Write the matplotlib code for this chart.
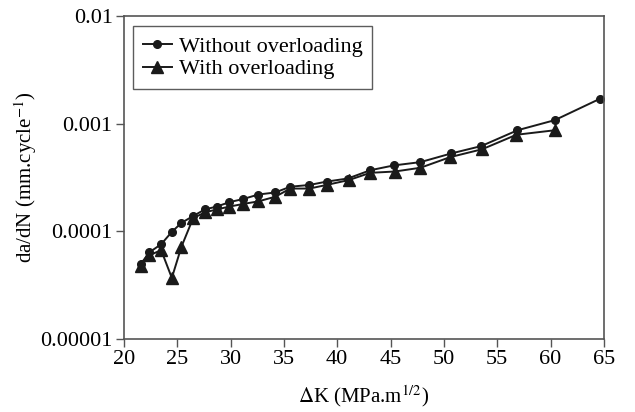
import matplotlib
matplotlib.use("Agg")
import matplotlib.pyplot as plt

# data
dk_without = [21.6, 22.4, 23.5, 24.5, 25.4, 26.5, 27.6, 28.7, 29.9, 31.2, 32.6, 34.2,
              35.6, 37.4, 39.0, 41.0, 43.1, 45.3, 47.8, 50.7, 53.5, 56.9, 60.4, 64.6]
dadn_without = [5.0e-5, 6.4e-5, 7.6e-5, 9.9e-5, 1.2e-4, 1.39e-4, 1.6e-4, 1.7e-4, 1.87e-4,
                2.0e-4, 2.2e-4, 2.3e-4, 2.6e-4, 2.7e-4, 2.9e-4, 3.1e-4, 3.7e-4, 4.1e-4,
                4.4e-4, 5.3e-4, 6.2e-4, 8.7e-4, 1.08e-3, 1.7e-3]

dk_with = [21.6, 22.4, 23.5, 24.5, 25.4, 26.5, 27.6, 28.7, 29.9, 31.2, 32.6, 34.2,
           35.6, 37.4, 39.0, 41.1, 43.1, 45.4, 47.8, 50.6, 53.6, 56.8, 60.4]
dadn_with = [4.8e-5, 6.0e-5, 6.7e-5, 3.7e-5, 7.2e-5, 1.33e-4, 1.5e-4, 1.6e-4, 1.7e-4,
             1.8e-4, 1.9e-4, 2.1e-4, 2.5e-4, 2.5e-4, 2.7e-4, 3.0e-4, 3.5e-4, 3.6e-4,
             3.9e-4, 4.9e-4, 5.8e-4, 7.9e-4, 8.7e-4]

x_ticks = [20, 25, 30, 35, 40, 45, 50, 55, 60, 65]
y_ticks = [1e-5, 1e-4, 1e-3, 1e-2]
y_labels = ["0.00001", "0.0001", "0.001", "0.01"]

plt.rcParams['font.family'] = ['Liberation Serif', 'DejaVu Serif']
plt.rcParams['mathtext.fontset'] = 'stix'

fig = plt.figure(figsize=(6.35, 4.12), dpi=100)
ax = fig.add_axes([0.195, 0.177, 0.756, 0.784])

ax.plot(dk_without, dadn_without, color='#1a1a1a', lw=1.4, marker='o', ms=5.5,
        label='Without overloading')
ax.plot(dk_with, dadn_with, color='#1a1a1a', lw=1.4, marker='^', ms=8,
        label='With overloading')

ax.set_yscale('log')
ax.set_xlim(20, 65)
ax.set_ylim(1e-5, 1e-2)
ax.set_xticks(x_ticks)
ax.set_xticklabels([str(t) for t in x_ticks])
ax.set_yticks(y_ticks)
ax.set_yticklabels(y_labels)
ax.minorticks_off()
ax.tick_params(direction='out', length=6, width=1, labelsize=16, color='#555555', pad=2)

for s in ax.spines.values():
    s.set_color('#555555')
    s.set_linewidth(1.2)

ax.set_xlabel(r'$\Delta$K (MPa.m$^{1/2}$)', fontsize=15, labelpad=10)
ax.set_ylabel(r'da/dN (mm.cycle$^{-1}$)', fontsize=15, labelpad=1)

leg = ax.legend(loc='upper left', fontsize=16, frameon=True, fancybox=False,
                handlelength=1.3, handletextpad=0.3, borderpad=0.45, labelspacing=0.1,
                borderaxespad=0, bbox_to_anchor=(0.019, 0.969))
leg.get_frame().set_edgecolor('#333333')
leg.get_frame().set_linewidth(1.0)

fig.savefig('out.png', dpi=100)
